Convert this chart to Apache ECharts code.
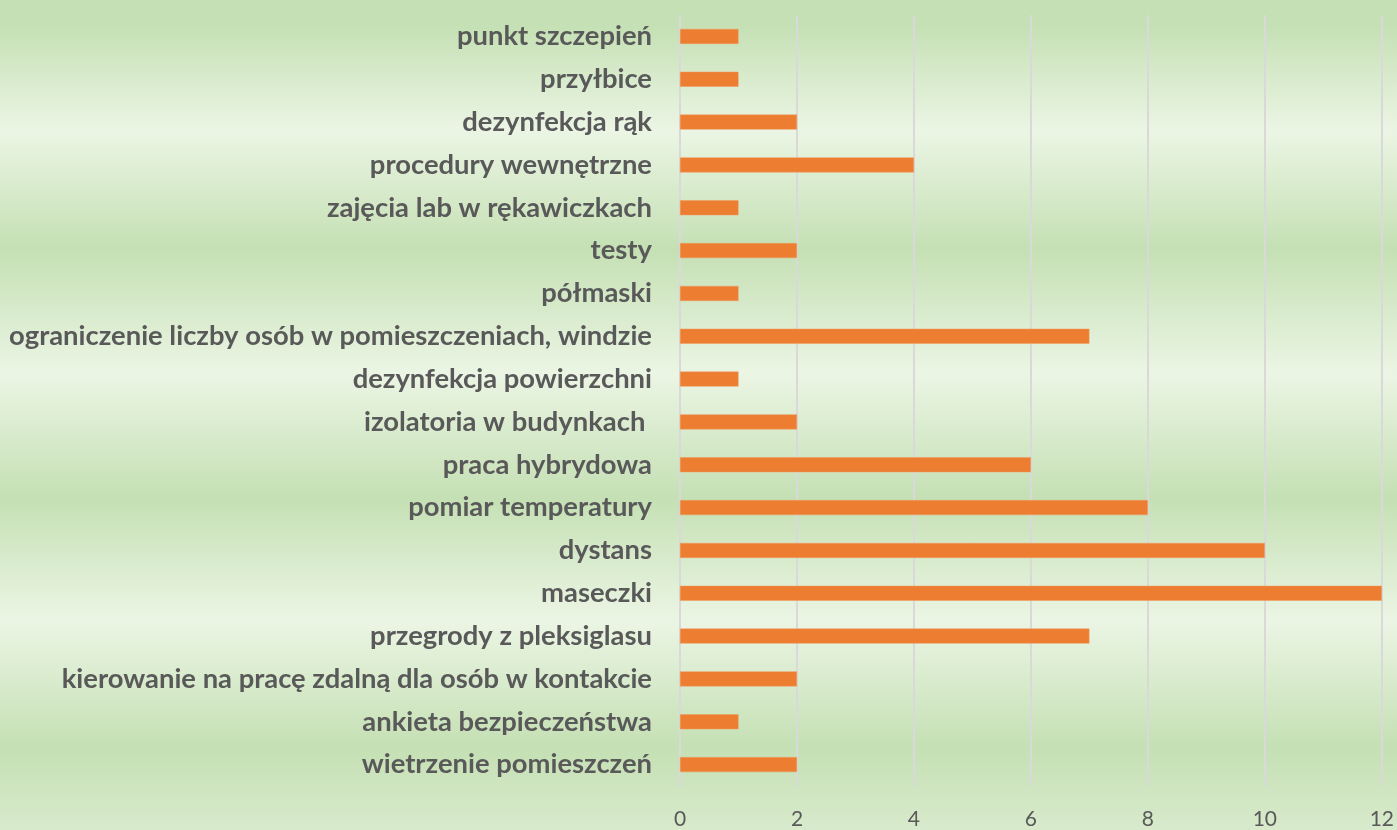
<!DOCTYPE html>
<html>
<head>
<meta charset="utf-8">
<script src="https://cdn.jsdelivr.net/npm/echarts@6/dist/echarts.min.js"></script>
<style>
html,body{margin:0;padding:0;}
#chart{width:1397px;height:830px;}
</style>
</head>
<body>
<div id="chart"></div>
<script>
const categories = [
  'punkt szczepień',
  'przyłbice',
  'dezynfekcja rąk',
  'procedury wewnętrzne',
  'zajęcia lab w rękawiczkach',
  'testy',
  'półmaski',
  'ograniczenie liczby osób w pomieszczeniach, windzie',
  'dezynfekcja powierzchni',
  'izolatoria w budynkach ',
  'praca hybrydowa',
  'pomiar temperatury',
  'dystans',
  'maseczki',
  'przegrody z pleksiglasu',
  'kierowanie na pracę zdalną dla osób w kontakcie',
  'ankieta bezpieczeństwa',
  'wietrzenie pomieszczeń'
];
const values = [1, 1, 2, 4, 1, 2, 1, 7, 1, 2, 6, 8, 10, 12, 7, 2, 1, 2];
const xTicks = [0, 2, 4, 6, 8, 10, 12];

const chart = echarts.init(document.getElementById('chart'));
const dark = '#c5e0b4', light = '#ebf5e4';
chart.setOption({
  backgroundColor: {
    type: 'linear', x: 0, y: 0, x2: 0, y2: 1,
    colorStops: [
      {offset: 0.0, color: dark},
      {offset: 0.03, color: dark},
      {offset: 0.157, color: light},
      {offset: 0.30, color: dark},
      {offset: 0.45, color: light},
      {offset: 0.60, color: dark},
      {offset: 0.747, color: light},
      {offset: 0.90, color: dark},
      {offset: 1.0, color: '#d8eacc'}
    ]
  },
  animation: false,
  grid: {left: 680, right: 15, top: 15, bottom: 40, containLabel: false},
  xAxis: {
    type: 'value',
    min: xTicks[0], max: xTicks[xTicks.length - 1], interval: 2,
    axisLine: {show: false},
    axisTick: {show: false},
    splitLine: {show: true, lineStyle: {color: '#d9d9d9', width: 2}},
    axisLabel: {color: '#595959', fontSize: 21, fontFamily: 'Lato', margin: 23}
  },
  yAxis: {
    type: 'category',
    data: categories,
    inverse: true,
    axisLine: {show: true, lineStyle: {color: '#d9d9d9', width: 2}},
    axisTick: {show: false},
    axisLabel: {color: '#595959', fontSize: 27.4, fontWeight: 'bold', fontFamily: 'Lato', margin: 28}
  },
  series: [{
    type: 'bar',
    data: values,
    barWidth: 15,
    itemStyle: {color: '#ed7d31', borderColor: '#f19a5e', borderWidth: 0.5}
  }]
});
</script>
</body>
</html>
